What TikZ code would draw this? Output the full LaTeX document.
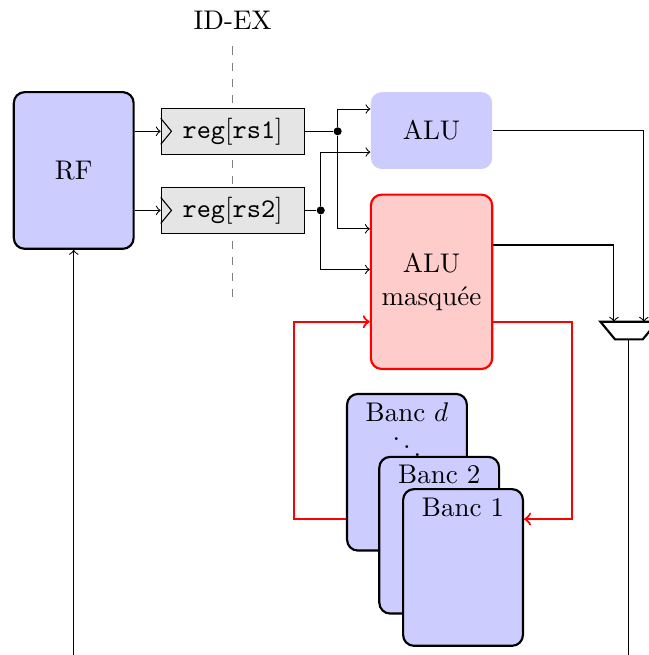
\documentclass[tikz,border=0pt]{standalone}
\usepackage{tikz}
\usetikzlibrary{positioning,calc}

\begin{document}
\begin{tikzpicture}[
    >=to,
    box/.style={rectangle, rounded corners, draw, thick, fill=blue!20, minimum width=1.56cm, minimum height=2.04cm},
    reg/.style={rectangle, draw, fill=gray!20, minimum width=1.86cm, minimum height=0.6cm},
    alu/.style={rectangle, rounded corners, minimum width=1.58cm, align=center},
    dot/.style={circle, fill, inner sep=0pt, minimum size=3pt},
    maskline/.style={->, thick, red}
]
    \useasboundingbox (0,0) rectangle (8.45,-8.53);

    % pipeline boundary
    \node (idex) at (3.03,-0.26) {ID-EX};
    \coordinate (idexend) at (3.03,-3.97);
    \draw[dashed, gray] ([yshift=-0.1cm]idex.south) -- (idexend);

    % register file and ID-EX registers
    \node[box] (rf) at (0.96,-2.22) {RF};
    \node[reg] (reg1) at (3.03,-1.71) {\texttt{reg}[\texttt{rs1}]};
    \node[reg] (reg2) at (3.03,-2.74) {\texttt{reg}[\texttt{rs2}]};
    \foreach \r in {reg1,reg2}
        \draw ([yshift=0.17cm]\r.west) -- ([xshift=0.14cm]\r.west) -- ([yshift=-0.17cm]\r.west);

    % ALUs
    \node[alu, fill=blue!20, minimum height=1.0cm] (alu) at (5.62,-1.70) {ALU};
    \node[alu, draw=red, thick, fill=red!20, minimum height=2.27cm] (masq) at (5.62,-3.67) {ALU\\masquée};

    \node[dot] (d1) at ($(reg1.east)+(0.43,0)$) {};
    \node[dot] (d2) at ($(reg2.east)+(0.21,0)$) {};

    \draw[->] (rf.east |- reg1) -- (reg1);
    \draw[->] (rf.east |- reg2) -- (reg2);
    \draw (reg1) -- (d1);
    \draw (reg2) -- (d2);
    \draw[->] (d1) |- ([yshift=0.28cm]alu.west);
    \draw[->] (d1) |- ([yshift=0.69cm]masq.west);
    \draw[->] (d2) |- ([yshift=-0.28cm]alu.west);
    \draw[->] (d2) |- ([yshift=0.16cm]masq.west);

    % mux
    \coordinate (mux) at (8.19,-4.19);
    \draw[thick] ($(mux)+(-0.37,0)$) -- ($(mux)+(0.37,0)$) -- ($(mux)+(0.18,-0.23)$) -- ($(mux)+(-0.18,-0.23)$) -- cycle;
    \coordinate (muxa) at ($(mux)+(-0.195,0)$);
    \coordinate (muxb) at ($(mux)+(0.195,0)$);
    \coordinate (muxout) at ($(mux)+(0,-0.23)$);
    \coordinate (wbend) at (8.19,-8.53);
    \coordinate (wbin) at (0.96,-8.53);

    \draw[->] (alu.east) -| (muxb);
    \draw[->] ([yshift=0.48cm]masq.east) -| (muxa);
    \draw (muxout) -- (wbend);
    \draw[->] (wbin) -- (rf);

    % banks
    \node[box] (bd) at (5.30,-6.15) {};
    \node[anchor=north] (lbd) at (bd.north) {Banc $d$};
    \node[inner sep=0pt] (dd) at ($(bd.north)+(0,-0.6)$) {$\ddots$};
    \node[box] (b2) at ($(bd)+(0.42,-0.82)$) {};
    \node[anchor=north] (lb2) at (b2.north) {Banc 2};
    \node[box] (b1) at ($(b2)+(0.31,-0.42)$) {};
    \node[anchor=north] (lb1) at (b1.north) {Banc 1};

    \coordinate (loopl) at (3.83,-6.76);
    \coordinate (loopr) at (7.45,-4.19);
    \draw[maskline] (bd.west |- loopl) -- (loopl) |- (masq.west |- loopr);
    \draw[maskline] (masq.east |- loopr) -- (loopr) |- (b1.east |- loopl);
\end{tikzpicture}
\end{document}
